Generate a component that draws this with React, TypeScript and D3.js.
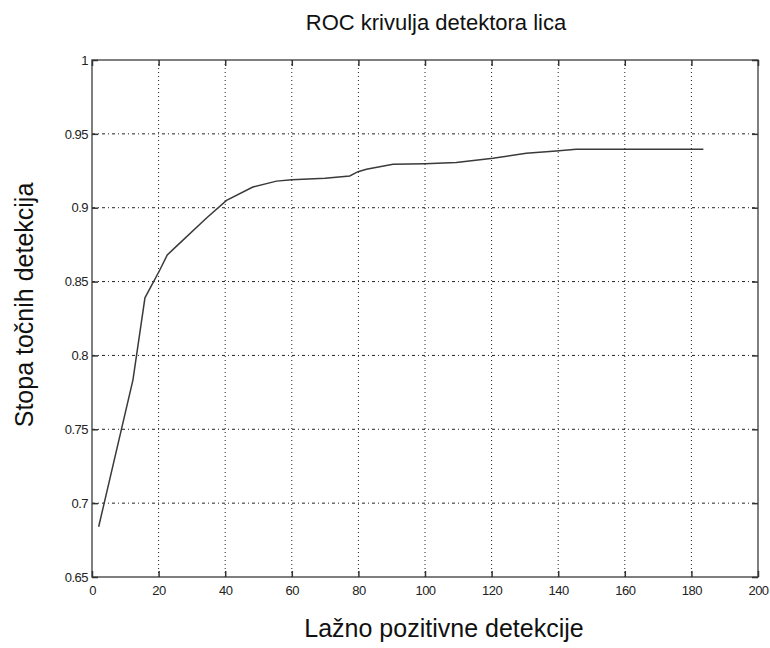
import React, { useEffect, useRef } from 'react';
import * as d3 from 'd3';

// ROC curve
const falsePositives = [2, 12.3, 15.9, 20.4, 22.6, 25.4, 34.4, 40.4, 48.3, 55.4, 60, 70, 77.4, 79.9, 82.4, 90.4, 100, 109.4, 120.4, 130.4, 139.4, 145.4, 160, 183.6];
const detectionRate = [0.684, 0.7835, 0.839, 0.858, 0.868, 0.874, 0.893, 0.905, 0.914, 0.918, 0.919, 0.92, 0.9215, 0.9244, 0.926, 0.9294, 0.9298, 0.9306, 0.9335, 0.9369, 0.9384, 0.9396, 0.9396, 0.9396];

const xTicks = [0, 20, 40, 60, 80, 100, 120, 140, 160, 180, 200];
const yTicks = [0.65, 0.7, 0.75, 0.8, 0.85, 0.9, 0.95, 1];

const title = 'ROC krivulja detektora lica';
const xLabel = 'Lažno pozitivne detekcije';
const yLabel = 'Stopa točnih detekcija';

const App = () => {
  const chartRef = useRef<SVGSVGElement>(null);

  useEffect(() => {
    const svg = d3.select(chartRef.current)
      .attr('width', 770)
      .attr('height', 648);

    svg.selectAll('*').remove();

    const margin = { top: 60, right: 12, bottom: 71, left: 92 },
      width = 770 - margin.left - margin.right,
      height = 648 - margin.top - margin.bottom;

    const g = svg.append('g')
      .attr('transform', `translate(${margin.left},${margin.top})`);

    const x = d3.scaleLinear().domain([0, 200]).range([0, width]);
    const y = d3.scaleLinear().domain([0.65, 1]).range([height, 0]);

    // grid
    g.append('g')
      .selectAll('line')
      .data(xTicks.slice(1, -1))
      .enter().append('line')
      .attr('x1', d => x(d)).attr('x2', d => x(d))
      .attr('y1', 0).attr('y2', height)
      .attr('stroke', '#222')
      .attr('stroke-width', 1)
      .attr('stroke-dasharray', '1,3');

    g.append('g')
      .selectAll('line')
      .data(yTicks.slice(1, -1))
      .enter().append('line')
      .attr('x1', 0).attr('x2', width)
      .attr('y1', d => y(d)).attr('y2', d => y(d))
      .attr('stroke', '#222')
      .attr('stroke-width', 1)
      .attr('stroke-dasharray', '3,3,1,3');

    // curve
    const pts = falsePositives.map((v, i) => [v, detectionRate[i]] as [number, number]);
    g.append('path')
      .datum(pts)
      .attr('fill', 'none')
      .attr('stroke', '#3a3a3a')
      .attr('stroke-width', 1.5)
      .attr('d', d3.line<[number, number]>().x(d => x(d[0])).y(d => y(d[1])));

    // box and ticks
    g.append('rect')
      .attr('width', width)
      .attr('height', height)
      .attr('fill', 'none')
      .attr('stroke', '#555')
      .attr('stroke-width', 1.5);

    const axisFont = (sel: any) => sel
      .attr('font-family', '"Liberation Sans", Arial, sans-serif')
      .attr('font-size', 13)
      .attr('letter-spacing', -0.5)
      .attr('fill', '#222');

    const bottom = g.append('g')
      .attr('transform', `translate(0,${height})`)
      .call(d3.axisBottom(x).tickValues(xTicks).tickSize(-6).tickPadding(9).tickFormat(d3.format('d')));
    bottom.select('.domain').remove();
    bottom.selectAll('line').attr('stroke', '#333').attr('stroke-width', 1.5);
    bottom.selectAll('text').call(axisFont);

    const top = g.append('g')
      .call(d3.axisTop(x).tickValues(xTicks).tickSize(-6).tickFormat(() => ''));
    top.select('.domain').remove();
    top.selectAll('line').attr('stroke', '#333').attr('stroke-width', 1.5);

    const left = g.append('g')
      .call(d3.axisLeft(y).tickValues(yTicks).tickSize(-6).tickPadding(4).tickFormat(d => String(+d)));
    left.select('.domain').remove();
    left.selectAll('line').attr('stroke', '#333').attr('stroke-width', 1.5);
    left.selectAll('text').call(axisFont);

    const right = g.append('g')
      .attr('transform', `translate(${width},0)`)
      .call(d3.axisRight(y).tickValues(yTicks).tickSize(-6).tickFormat(() => ''));
    right.select('.domain').remove();
    right.selectAll('line').attr('stroke', '#333').attr('stroke-width', 1.5);

    const labelFont = '"Liberation Sans", Arial, sans-serif';

    svg.append('text')
      .attr('x', 436)
      .attr('y', 30)
      .attr('text-anchor', 'middle')
      .attr('font-family', labelFont)
      .attr('font-size', 22)
      .attr('fill', '#111')
      .text(title);

    svg.append('text')
      .attr('x', 444)
      .attr('y', 637)
      .attr('text-anchor', 'middle')
      .attr('font-family', labelFont)
      .attr('font-size', 25)
      .attr('fill', '#111')
      .text(xLabel);

    svg.append('text')
      .attr('transform', `translate(33,305) rotate(-90)`)
      .attr('text-anchor', 'middle')
      .attr('font-family', labelFont)
      .attr('font-size', 25)
      .attr('fill', '#111')
      .text(yLabel);
  }, []);

  return <svg ref={chartRef} style={{ position: 'absolute', left: 0, top: 0 }}></svg>;
};

export default App;
